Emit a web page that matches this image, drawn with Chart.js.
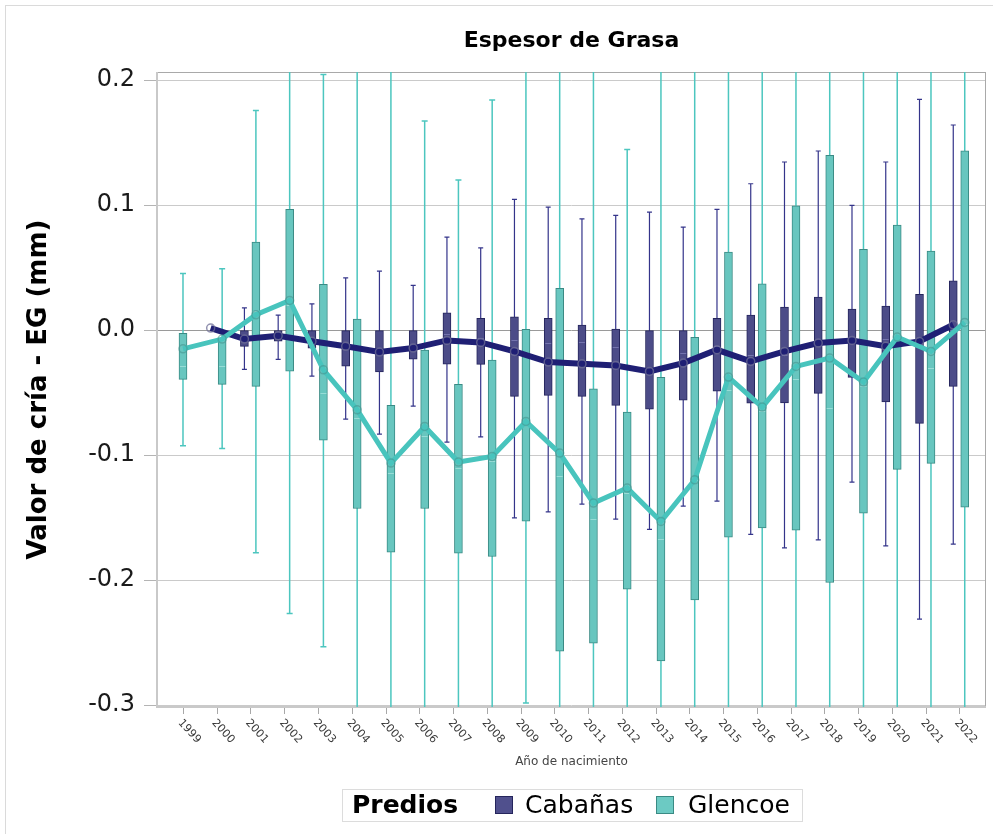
<!DOCTYPE html>
<html>
<head>
<meta charset="utf-8">
<title>Espesor de Grasa</title>
<script src="https://cdn.jsdelivr.net/npm/chart.js@4.4.1/dist/chart.umd.min.js"></script>
<style>
  html, body { margin: 0; padding: 0; background: #ffffff; }
  canvas { display: block; }
</style>
</head>
<body>
<canvas id="chart" width="993" height="834"></canvas>
<script>
// Año de nacimiento (categorías del eje X)
const years = ['1999','2000','2001','2002','2003','2004','2005','2006','2007','2008','2009','2010',
               '2011','2012','2013','2014','2015','2016','2017','2018','2019','2020','2021','2022'];

// Ticks del eje Y
const yTicks = [0.2, 0.1, 0.0, -0.1, -0.2, -0.3];

// Cabañas: promedio, cuartiles, mediana y extremos de bigotes
const cabMean = [null, 0.0016, -0.0072, -0.0046, -0.0090, -0.0130, -0.0176, -0.0144, -0.0083, -0.0099, -0.0171, -0.0256,
                 -0.0270, -0.0283, -0.0331, -0.0264, -0.0158, -0.0251, -0.0171, -0.0104, -0.0083, -0.0130, -0.0091, 0.0042];
const cabQ3   = [null, null, -0.0005, -0.0005, -0.0005, -0.0005, -0.0005, -0.0005, 0.0138, 0.0093, 0.0106, 0.0093,
                 0.0040, 0.0008, -0.0005, -0.0005, 0.0093, 0.0120, 0.0184, 0.0264, 0.0168, 0.0192, 0.0285, 0.0394];
const cabQ1   = [null, null, -0.0130, -0.0088, -0.0144, -0.0288, -0.0334, -0.0232, -0.0272, -0.0275, -0.0531, -0.0523,
                 -0.0531, -0.0603, -0.0632, -0.0560, -0.0488, -0.0584, -0.0582, -0.0507, -0.0379, -0.0574, -0.0747, -0.0451];
const cabMed  = [null, null, -0.0060, -0.0040, -0.0080, -0.0120, -0.0160, -0.0120, -0.0030, -0.0060, -0.0080, -0.0100,
                 -0.0096, -0.0139, -0.0300, -0.0184, -0.0130, -0.0200, -0.0200, -0.0090, -0.0060, -0.0070, -0.0080, 0.0000];
const cabMax  = [null, null, 0.0178, 0.0120, 0.0210, 0.0418, 0.0472, 0.0357, 0.0744, 0.0658, 0.1045, 0.0984,
                 0.0890, 0.0917, 0.0944, 0.0824, 0.0965, 0.1170, 0.1344, 0.1432, 0.0997, 0.1344, 0.1845, 0.1640];
const cabMin  = [null, null, -0.0315, -0.0235, -0.0368, -0.0712, -0.0832, -0.0608, -0.0896, -0.0854, -0.1502, -0.1454,
                 -0.1392, -0.1512, -0.1595, -0.1408, -0.1368, -0.1635, -0.1742, -0.1678, -0.1216, -0.1726, -0.2312, -0.1712];

// Glencoe: promedio, cuartiles, mediana y extremos de bigotes
const glenMean = [-0.0150, -0.0072, 0.0122, 0.0237, -0.0318, -0.0638, -0.1064, -0.0771, -0.1056, -0.1011, -0.0731, -0.0984,
                  -0.1384, -0.1264, -0.1531, -0.1198, -0.0376, -0.0616, -0.0291, -0.0224, -0.0416, -0.0056, -0.0171, 0.0061];
const glenQ3   = [-0.0027, -0.0075, 0.0704, 0.0965, 0.0365, 0.0088, -0.0603, -0.0160, -0.0435, -0.0240, 0.0005, 0.0333,
                  -0.0470, -0.0656, -0.0379, -0.0059, 0.0624, 0.0370, 0.0994, 0.1397, 0.0645, 0.0840, 0.0632, 0.1434];
const glenQ1   = [-0.0395, -0.0435, -0.0451, -0.0328, -0.0880, -0.1427, -0.1776, -0.1427, -0.1784, -0.1811, -0.1528, -0.2568,
                  -0.2504, -0.2072, -0.2646, -0.2158, -0.1656, -0.1582, -0.1600, -0.2019, -0.1464, -0.1115, -0.1067, -0.1416];
const glenMed  = [-0.0288, -0.0288, 0.0149, 0.0200, -0.0500, -0.0700, -0.1144, -0.0850, -0.1100, -0.1050, -0.0750, -0.1170,
                  -0.1510, -0.1300, -0.1670, -0.1200, -0.0483, -0.0650, -0.0392, -0.0624, -0.0450, -0.0100, -0.0300, 0.0050];
const glenMax  = [0.0453, 0.0490, 0.1757, 0.2600, 0.2045, 0.2500, 0.2700, 0.1672, 0.1200, 0.1840, 0.2400, 0.2800,
                  0.2600, 0.1445, 0.2700, 0.2500, 0.2600, 0.2900, 0.3000, 0.3100, 0.2700, 0.2900, 0.3000, 0.3200];
const glenMin  = [-0.0926, -0.0947, -0.1782, -0.2267, -0.2534, -0.3500, -0.3600, -0.3300, -0.3400, -0.3500, -0.2984, -0.3800,
                  -0.3900, -0.3400, -0.4000, -0.3700, -0.3400, -0.3500, -0.3600, -0.3800, -0.3300, -0.3200, -0.3300, -0.3500];

const FONT = '"DejaVu Sans", "Noto Sans", sans-serif';

const COL = {
  cabBox: '#50508d', cabEdge: '#25255c', cabWhisker: '#34348a', cabLine: '#1f1f74', cabMedian: '#7474ae',
  glenBox: '#6ccac3', glenEdge: '#3a8a84', glenWhisker: '#4cc6bf', glenLine: '#48c4bd', glenMedian: '#98dcd6'
};

// Desplazamiento lateral de cada predio dentro de un año (centrado si sólo hay uno)
function xPos(i, side) {
  if (cabMean[i] === null || glenMean[i] === null) return i;
  return side < 0 ? i - 0.18 : i + 0.16;
}

function boxData(q1, q3, side) {
  return years.map((_, i) => (q1[i] === null ? null : { x: xPos(i, side), y: [q1[i], q3[i]] })).filter(d => d);
}
function lineData(mean, side) {
  return years.map((_, i) => (mean[i] === null ? null : { x: xPos(i, side), y: mean[i] })).filter(d => d);
}

// Relleno de caja con leve sombreado horizontal
function boxFill(light, base, dark) {
  return ctx => {
    const el = ctx.element;
    if (!el || el.width === undefined || !isFinite(el.x)) return base;
    const c = ctx.chart.ctx;
    const g = c.createLinearGradient(el.x - el.width / 2, 0, el.x + el.width / 2, 0);
    g.addColorStop(0, dark); g.addColorStop(0.45, light); g.addColorStop(1, base);
    return g;
  };
}

const groups = [
  { side: -1, min: cabMin, max: cabMax, med: cabMed, q1: cabQ1, whisker: COL.cabWhisker, median: COL.cabMedian, cap: 5, w: 1.2 },
  { side: 1, min: glenMin, max: glenMax, med: glenMed, q1: glenQ1, whisker: COL.glenWhisker, median: COL.glenMedian, cap: 6, w: 1.5 }
];

// Marco exterior, título, marco del área de trazado, bigotes, etiquetas y leyenda
const framePlugin = {
  id: 'frame',
  beforeDraw(chart) {
    const { ctx, chartArea: a } = chart;
    ctx.save();
    ctx.strokeStyle = '#dadada';
    ctx.lineWidth = 1;
    ctx.strokeRect(5.5, 5.5, 1200, 1200);
    ctx.fillStyle = '#000';
    ctx.font = 'bold 22px ' + FONT;
    ctx.textAlign = 'center';
    ctx.textBaseline = 'middle';
    ctx.fillText('Espesor de Grasa', (a.left + a.right) / 2, 41);
    ctx.restore();
  },
  beforeDatasetsDraw(chart) {
    const { ctx, chartArea: a, scales: { x, y } } = chart;
    ctx.save();
    ctx.strokeStyle = '#a9a9a9';
    ctx.lineWidth = 1;
    ctx.strokeRect(a.left + 0.5, a.top + 0.5, a.right - a.left - 1, a.bottom - a.top);
    ctx.strokeStyle = '#c9c9c9';
    ctx.lineWidth = 2;
    ctx.beginPath();
    ctx.moveTo(a.left, a.top); ctx.lineTo(a.left, a.bottom); ctx.lineTo(a.right, a.bottom);
    ctx.stroke();

    // marcas del eje X
    ctx.strokeStyle = '#a8a8a8';
    ctx.lineWidth = 1;
    years.forEach((_, i) => {
      const px = Math.round(x.getPixelForValue(i)) + 0.5;
      ctx.beginPath();
      ctx.moveTo(px, a.bottom + 1); ctx.lineTo(px, a.bottom + 7);
      ctx.stroke();
    });

    // bigotes
    ctx.beginPath();
    ctx.rect(a.left, a.top, a.right - a.left, a.bottom - a.top);
    ctx.clip();
    groups.forEach(g => {
      ctx.strokeStyle = g.whisker;
      ctx.lineWidth = g.w;
      years.forEach((_, i) => {
        if (g.min[i] === null || g.q1[i] === null) return;
        const px = x.getPixelForValue(xPos(i, g.side));
        const top = y.getPixelForValue(g.max[i]);
        const bot = y.getPixelForValue(g.min[i]);
        ctx.beginPath();
        ctx.moveTo(px, top); ctx.lineTo(px, bot);
        ctx.moveTo(px - g.cap / 2, top); ctx.lineTo(px + g.cap / 2, top);
        ctx.moveTo(px - g.cap / 2, bot); ctx.lineTo(px + g.cap / 2, bot);
        ctx.stroke();
      });
    });
    ctx.restore();
  },
  afterDatasetDraw(chart, args) {
    // medianas sobre las cajas, antes de las líneas de promedio
    if (args.index !== 1) return;
    const { ctx, scales: { x, y } } = chart;
    ctx.save();
    ctx.lineWidth = 1;
    groups.forEach(g => {
      ctx.strokeStyle = g.median;
      years.forEach((_, i) => {
        if (g.med[i] === null || g.q1[i] === null) return;
        const px = x.getPixelForValue(xPos(i, g.side));
        const py = Math.round(y.getPixelForValue(g.med[i])) + 0.5;
        ctx.beginPath();
        ctx.moveTo(px - 3, py); ctx.lineTo(px + 3, py);
        ctx.stroke();
      });
    });
    ctx.restore();
  },
  afterDraw(chart) {
    const { ctx, scales: { x } } = chart;
    ctx.save();
    // etiquetas de años, inclinadas
    ctx.font = '11px ' + FONT;
    ctx.fillStyle = '#3a3a3a';
    ctx.textAlign = 'left';
    ctx.textBaseline = 'middle';
    years.forEach((yr, i) => {
      const px = x.getPixelForValue(i);
      ctx.save();
      ctx.translate(px - 3, 721);
      ctx.rotate(48 * Math.PI / 180);
      ctx.fillText(yr, 0, 0);
      ctx.restore();
    });

    // leyenda
    ctx.strokeStyle = '#dcdcdc';
    ctx.lineWidth = 1;
    ctx.strokeRect(342.5, 789.5, 460, 32);
    ctx.fillStyle = '#000';
    ctx.font = 'bold 25px ' + FONT;
    ctx.fillText('Predios', 352, 806);
    ctx.font = '25px ' + FONT;
    ctx.fillStyle = COL.cabBox; ctx.fillRect(495, 796, 18, 18);
    ctx.strokeStyle = COL.cabEdge; ctx.strokeRect(495.5, 796.5, 17, 17);
    ctx.fillStyle = '#000'; ctx.fillText('Cabañas', 525, 806);
    ctx.fillStyle = COL.glenBox; ctx.fillRect(656, 796, 18, 18);
    ctx.strokeStyle = COL.glenEdge; ctx.strokeRect(656.5, 796.5, 17, 17);
    ctx.fillStyle = '#000'; ctx.fillText('Glencoe', 688, 806);
    ctx.restore();
  }
};

new Chart(document.getElementById('chart'), {
  type: 'bar',
  data: {
    datasets: [
      { type: 'bar', label: 'Cabañas', data: boxData(cabQ1, cabQ3, -1), order: 4,
        backgroundColor: boxFill('#5c5c9a', '#4c4c88', '#3f3f78'), borderColor: COL.cabEdge,
        borderWidth: 1, borderSkipped: false, barThickness: 8, grouped: false },
      { type: 'bar', label: 'Glencoe', data: boxData(glenQ1, glenQ3, 1), order: 3,
        backgroundColor: boxFill('#7ed3cc', '#68c6bf', '#56b7b0'), borderColor: COL.glenEdge,
        borderWidth: 1, borderSkipped: false, barThickness: 8, grouped: false },
      { type: 'line', label: 'Cabañas promedio', data: lineData(cabMean, -1), order: 2,
        borderColor: COL.cabLine, borderWidth: 6, tension: 0,
        pointRadius: 4, pointBorderWidth: 1.5, pointBorderColor: 'rgba(110,110,150,0.75)',
        pointBackgroundColor: 'rgba(255,255,255,0)' },
      { type: 'line', label: 'Glencoe promedio', data: lineData(glenMean, 1), order: 1,
        borderColor: COL.glenLine, borderWidth: 5, tension: 0,
        pointRadius: 4, pointBorderWidth: 1.5, pointBorderColor: 'rgba(70,150,145,0.6)',
        pointBackgroundColor: 'rgba(255,255,255,0)' }
    ]
  },
  options: {
    responsive: false,
    animation: false,
    devicePixelRatio: 1,
    layout: { padding: { left: 0, right: 7, top: 72, bottom: 65 } },
    plugins: {
      legend: { display: false },
      tooltip: { enabled: false },
      title: { display: false }
    },
    scales: {
      x: {
        type: 'linear', min: -0.77, max: 23.79, offset: false,
        afterBuildTicks: s => { s.ticks = years.map((_, i) => ({ value: i })); },
        afterFit: s => { s.height = 62; },
        ticks: { display: false },
        grid: { display: false },
        border: { display: false },
        title: { display: true, text: 'Año de nacimiento', color: '#444',
                 font: { family: FONT, size: 12 }, padding: { top: 0, bottom: 0 } }
      },
      y: {
        type: 'linear', min: -0.3015, max: 0.2064,
        afterBuildTicks: s => { s.ticks = yTicks.map(v => ({ value: v })); },
        afterFit: s => { s.width = 157; },
        ticks: { color: '#1a1a1a', font: { family: FONT, size: 24 }, padding: 9,
                 callback: v => v.toFixed(1) },
        grid: { color: ctx => (ctx.tick && ctx.tick.value === 0 ? '#9a9a9a' : '#cacaca'),
                tickColor: '#b4b4b4', tickLength: 13 },
        border: { display: false },
        title: { display: true, text: 'Valor de cría - EG (mm)', color: '#000',
                 font: { family: FONT, size: 26, weight: 'bold' }, padding: { top: 24, bottom: 0 } }
      }
    }
  },
  plugins: [framePlugin]
});
</script>
</body>
</html>
